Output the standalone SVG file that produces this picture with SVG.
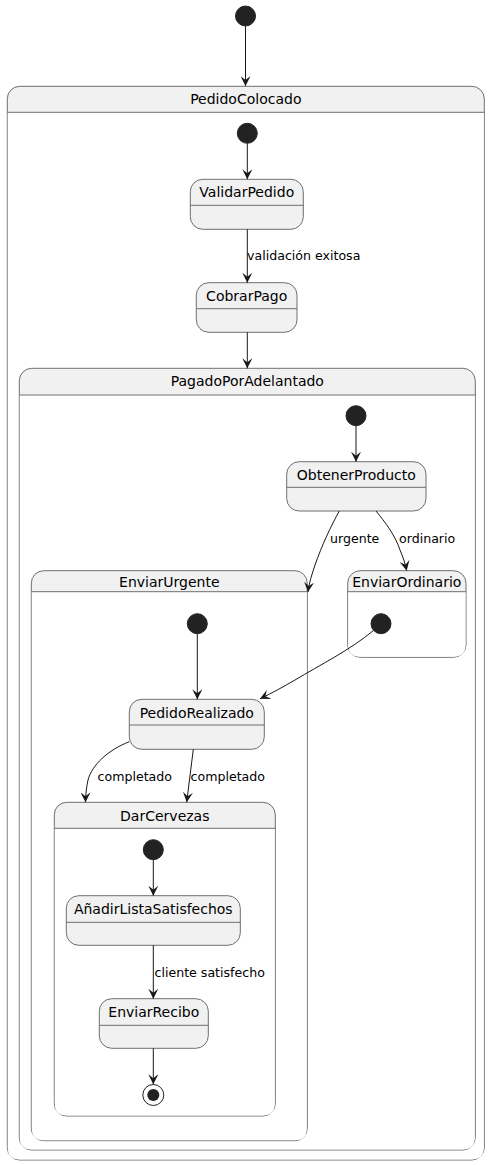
<svg xmlns="http://www.w3.org/2000/svg" width="490" height="1165" viewBox="0 0 490 1165">
<style>
.box{fill:#F1F1F1;stroke:#6e6e6e;stroke-width:1}
.sep{stroke:#6e6e6e;stroke-width:1;fill:none}
.body{fill:#FFFFFF;stroke:none}
.t{font-family:"DejaVu Sans","Liberation Sans",sans-serif;font-size:14px;fill:#000;text-anchor:middle}
.l{font-family:"DejaVu Sans","Liberation Sans",sans-serif;font-size:12.6px;fill:#000}
.e{fill:none;stroke:#181818;stroke-width:1}
.start{fill:#222222;stroke:#222222}
</style>
<defs>
<marker id="ah" viewBox="0 0 10 10" refX="10" refY="5" markerWidth="10" markerHeight="10" markerUnits="userSpaceOnUse" orient="auto">
<polygon points="0,0 10,5 0,10 4,5" fill="#181818"/>
</marker>
</defs>
<rect width="490" height="1165" fill="#FFFFFF"/>

<g id="start0"><circle class="start" cx="245.5" cy="16" r="10"/></g>

<g id="PedidoColocado">
<rect class="box" x="7.3" y="86.3" width="477" height="1073.7" rx="12.5"/>
<path class="body" d="M7.8,112.3 H483.8 V1147.5 Q483.8,1159.5 471.8,1159.5 H19.8 Q7.8,1159.5 7.8,1147.5 Z"/>
<line class="sep" x1="7.3" y1="112.3" x2="484.3" y2="112.3"/>
<text class="t" x="245.8" y="104">PedidoColocado</text>
</g>

<g id="start1"><circle class="start" cx="247.3" cy="133.3" r="10"/></g>

<g id="ValidarPedido">
<rect class="box" x="190.3" y="179.3" width="113" height="50" rx="12.5"/>
<line class="sep" x1="190.3" y1="205.3" x2="303.3" y2="205.3"/>
<text class="t" x="246.8" y="197">ValidarPedido</text>
</g>

<g id="CobrarPago">
<rect class="box" x="196.3" y="282.7" width="100.7" height="49.6" rx="12.5"/>
<line class="sep" x1="196.3" y1="308.7" x2="297" y2="308.7"/>
<text class="t" x="246.7" y="300.5">CobrarPago</text>
</g>

<g id="PagadoPorAdelantado">
<rect class="box" x="19.3" y="368.3" width="456" height="781.7" rx="12.5"/>
<path class="body" d="M19.8,395 H474.8 V1137.5 Q474.8,1149.5 462.8,1149.5 H31.8 Q19.8,1149.5 19.8,1137.5 Z"/>
<line class="sep" x1="19.3" y1="395" x2="475.3" y2="395"/>
<text class="t" x="247.3" y="386">PagadoPorAdelantado</text>
</g>

<g id="start2"><circle class="start" cx="356" cy="415.7" r="10"/></g>

<g id="ObtenerProducto">
<rect class="box" x="286.7" y="461.7" width="139.3" height="49.3" rx="12.5"/>
<line class="sep" x1="286.7" y1="487.3" x2="426" y2="487.3"/>
<text class="t" x="356.3" y="480">ObtenerProducto</text>
</g>

<g id="EnviarUrgente">
<rect class="box" x="31.3" y="570.7" width="276" height="570" rx="12.5"/>
<path class="body" d="M31.8,591.7 H306.8 V1128.2 Q306.8,1140.2 294.8,1140.2 H43.8 Q31.8,1140.2 31.8,1128.2 Z"/>
<line class="sep" x1="31.3" y1="591.7" x2="307.3" y2="591.7"/>
<text class="t" x="169.3" y="586.5">EnviarUrgente</text>
</g>

<g id="EnviarOrdinario">
<rect class="box" x="347.7" y="570.7" width="118.3" height="86.6" rx="12.5"/>
<path class="body" d="M348.2,591.7 H465.5 V644.8 Q465.5,656.8 453.5,656.8 H360.2 Q348.2,656.8 348.2,644.8 Z"/>
<line class="sep" x1="347.7" y1="591.7" x2="466" y2="591.7"/>
<text class="t" x="406.8" y="586.5">EnviarOrdinario</text>
</g>

<g id="start3"><circle class="start" cx="197.3" cy="623.7" r="10"/></g>
<g id="start4"><circle class="start" cx="381" cy="623.7" r="10"/></g>

<g id="PedidoRealizado">
<rect class="box" x="129.3" y="699.3" width="135" height="50" rx="12.5"/>
<line class="sep" x1="129.3" y1="725" x2="264.3" y2="725"/>
<text class="t" x="196.8" y="717.5">PedidoRealizado</text>
</g>

<g id="DarCervezas">
<rect class="box" x="54.3" y="802.3" width="221" height="313.7" rx="12.5"/>
<path class="body" d="M54.8,828.3 H274.8 V1103.5 Q274.8,1115.5 262.8,1115.5 H66.8 Q54.8,1115.5 54.8,1103.5 Z"/>
<line class="sep" x1="54.3" y1="828.3" x2="275.3" y2="828.3"/>
<text class="t" x="164.8" y="821">DarCervezas</text>
</g>

<g id="start5"><circle class="start" cx="153.3" cy="849.7" r="10"/></g>

<g id="AnadirListaSatisfechos">
<rect class="box" x="66.3" y="895.7" width="174" height="49.6" rx="12.5"/>
<line class="sep" x1="66.3" y1="922.3" x2="240.3" y2="922.3"/>
<text class="t" x="153.3" y="913.5">AñadirListaSatisfechos</text>
</g>

<g id="EnviarRecibo">
<rect class="box" x="99.3" y="998.7" width="109" height="49.6" rx="12.5"/>
<line class="sep" x1="99.3" y1="1025.3" x2="208.3" y2="1025.3"/>
<text class="t" x="153.8" y="1016.5">EnviarRecibo</text>
</g>

<g id="end">
<circle cx="153.3" cy="1095" r="10.5" fill="none" stroke="#222222" stroke-width="1"/>
<circle cx="153.3" cy="1095" r="6" fill="#222222"/>
</g>

<g id="connectors">
<path class="e" marker-end="url(#ah)" d="M245.5,26 L245.5,86"/>
<path class="e" marker-end="url(#ah)" d="M247.3,143.3 L247.3,179.3"/>
<path class="e" marker-end="url(#ah)" d="M247.3,229.3 L247.3,282.7"/>
<text class="l" x="247" y="260">validación exitosa</text>
<path class="e" marker-end="url(#ah)" d="M247.3,332.3 L247.3,368.3"/>
<path class="e" marker-end="url(#ah)" d="M356,425.7 L356,461.7"/>
<path class="e" marker-end="url(#ah)" d="M339.3,511 C331,526 322,545 315,565 C312,574 309,583 308,592"/>
<text class="l" x="330" y="543">urgente</text>
<path class="e" marker-end="url(#ah)" d="M376,511 C385,522 395,535 400,550 C403,557 405,563 406.7,570.7"/>
<text class="l" x="399" y="543">ordinario</text>
<path class="e" marker-end="url(#ah)" d="M373.5,630.5 C350,650 320,665 295,680 C283,687 272,693 260,698.8"/>
<path class="e" marker-end="url(#ah)" d="M197.3,633.7 L197.3,699.3"/>
<path class="e" marker-end="url(#ah)" d="M129.3,741.7 C108,750 92,765 88,780 C86.5,787 85.5,795 85.5,802.3"/>
<text class="l" x="97.5" y="781">completado</text>
<path class="e" marker-end="url(#ah)" d="M193.3,749.3 L186.7,802.3"/>
<text class="l" x="190.5" y="781">completado</text>
<path class="e" marker-end="url(#ah)" d="M153.3,859.7 L153.3,895.7"/>
<path class="e" marker-end="url(#ah)" d="M153.3,945.3 L153.3,998.7"/>
<text class="l" x="154.5" y="977">cliente satisfecho</text>
<path class="e" marker-end="url(#ah)" d="M153.3,1048.3 L153.3,1084.3"/>
</g>
</svg>
